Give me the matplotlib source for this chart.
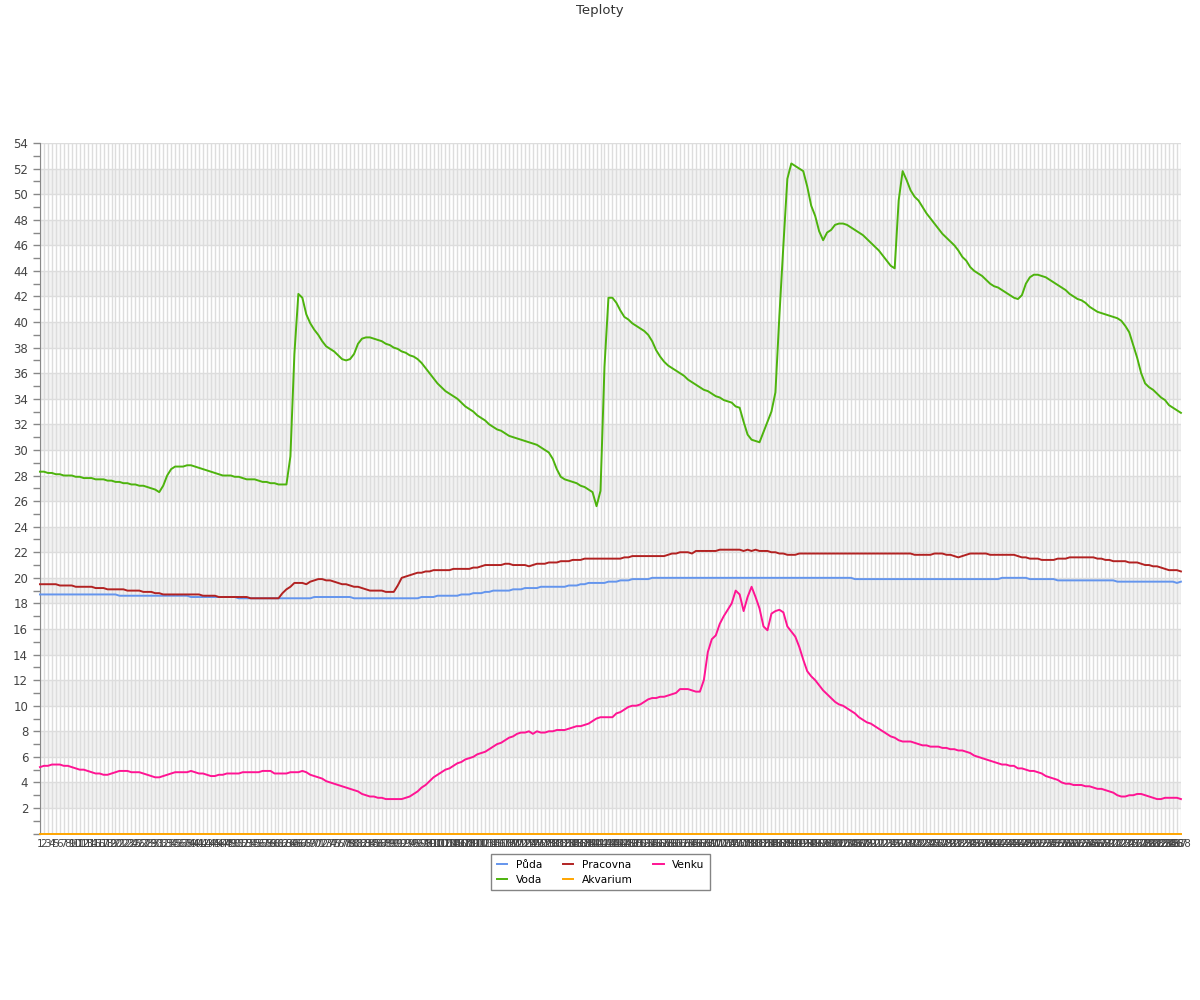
import numpy as np
import matplotlib
matplotlib.use('Agg')
import matplotlib.pyplot as plt

# 288 samples (5 min steps), labels 1..288
labels = [str(i) for i in range(1, 289)]

puda = [
    18.7, 18.7, 18.7, 18.7, 18.7, 18.7, 18.7, 18.7, 18.7, 18.7, 18.7, 18.7,
    18.7, 18.7, 18.7, 18.7, 18.7, 18.7, 18.7, 18.7, 18.6, 18.6, 18.6, 18.6,
    18.6, 18.6, 18.6, 18.6, 18.6, 18.6, 18.6, 18.6, 18.6, 18.6, 18.6, 18.6,
    18.6, 18.6, 18.5, 18.5, 18.5, 18.5, 18.5, 18.5, 18.5, 18.5, 18.5, 18.5,
    18.5, 18.5, 18.4, 18.4, 18.4, 18.4, 18.4, 18.4, 18.4, 18.4, 18.4, 18.4,
    18.4, 18.4, 18.4, 18.4, 18.4, 18.4, 18.4, 18.4, 18.4, 18.5, 18.5, 18.5,
    18.5, 18.5, 18.5, 18.5, 18.5, 18.5, 18.5, 18.4, 18.4, 18.4, 18.4, 18.4,
    18.4, 18.4, 18.4, 18.4, 18.4, 18.4, 18.4, 18.4, 18.4, 18.4, 18.4, 18.4,
    18.5, 18.5, 18.5, 18.5, 18.6, 18.6, 18.6, 18.6, 18.6, 18.6, 18.7, 18.7,
    18.7, 18.8, 18.8, 18.8, 18.9, 18.9, 19.0, 19.0, 19.0, 19.0, 19.0, 19.1,
    19.1, 19.1, 19.2, 19.2, 19.2, 19.2, 19.3, 19.3, 19.3, 19.3, 19.3, 19.3,
    19.3, 19.4, 19.4, 19.4, 19.5, 19.5, 19.6, 19.6, 19.6, 19.6, 19.6, 19.7,
    19.7, 19.7, 19.8, 19.8, 19.8, 19.9, 19.9, 19.9, 19.9, 19.9, 20.0, 20.0,
    20.0, 20.0, 20.0, 20.0, 20.0, 20.0, 20.0, 20.0, 20.0, 20.0, 20.0, 20.0,
    20.0, 20.0, 20.0, 20.0, 20.0, 20.0, 20.0, 20.0, 20.0, 20.0, 20.0, 20.0,
    20.0, 20.0, 20.0, 20.0, 20.0, 20.0, 20.0, 20.0, 20.0, 20.0, 20.0, 20.0,
    20.0, 20.0, 20.0, 20.0, 20.0, 20.0, 20.0, 20.0, 20.0, 20.0, 20.0, 20.0,
    20.0, 19.9, 19.9, 19.9, 19.9, 19.9, 19.9, 19.9, 19.9, 19.9, 19.9, 19.9,
    19.9, 19.9, 19.9, 19.9, 19.9, 19.9, 19.9, 19.9, 19.9, 19.9, 19.9, 19.9,
    19.9, 19.9, 19.9, 19.9, 19.9, 19.9, 19.9, 19.9, 19.9, 19.9, 19.9, 19.9,
    19.9, 19.9, 20.0, 20.0, 20.0, 20.0, 20.0, 20.0, 20.0, 19.9, 19.9, 19.9,
    19.9, 19.9, 19.9, 19.9, 19.8, 19.8, 19.8, 19.8, 19.8, 19.8, 19.8, 19.8,
    19.8, 19.8, 19.8, 19.8, 19.8, 19.8, 19.8, 19.7, 19.7, 19.7, 19.7, 19.7,
    19.7, 19.7, 19.7, 19.7, 19.7, 19.7, 19.7, 19.7, 19.7, 19.7, 19.6, 19.7,
]

voda = [
    28.3, 28.3, 28.2, 28.2, 28.1, 28.1, 28.0, 28.0, 28.0, 27.9, 27.9, 27.8,
    27.8, 27.8, 27.7, 27.7, 27.7, 27.6, 27.6, 27.5, 27.5, 27.4, 27.4, 27.3,
    27.3, 27.2, 27.2, 27.1, 27.0, 26.9, 26.7, 27.2, 28.0, 28.5, 28.7, 28.7,
    28.7, 28.8, 28.8, 28.7, 28.6, 28.5, 28.4, 28.3, 28.2, 28.1, 28.0, 28.0,
    28.0, 27.9, 27.9, 27.8, 27.7, 27.7, 27.7, 27.6, 27.5, 27.5, 27.4, 27.4,
    27.3, 27.3, 27.3, 29.5, 37.5, 42.2, 41.9, 40.6, 39.9, 39.4, 39.0, 38.5,
    38.1, 37.9, 37.7, 37.4, 37.1, 37.0, 37.1, 37.5, 38.3, 38.7, 38.8, 38.8,
    38.7, 38.6, 38.5, 38.3, 38.2, 38.0, 37.9, 37.7, 37.6, 37.4, 37.3, 37.1,
    36.8, 36.4, 36.0, 35.6, 35.2, 34.9, 34.6, 34.4, 34.2, 34.0, 33.7, 33.4,
    33.2, 33.0, 32.7, 32.5, 32.3, 32.0, 31.8, 31.6, 31.5, 31.3, 31.1, 31.0,
    30.9, 30.8, 30.7, 30.6, 30.5, 30.4, 30.2, 30.0, 29.8, 29.3, 28.5, 27.9,
    27.7, 27.6, 27.5, 27.4, 27.2, 27.1, 26.9, 26.7, 25.6, 26.8, 36.5, 41.9,
    41.9, 41.5, 40.9, 40.4, 40.2, 39.9, 39.7, 39.5, 39.3, 39.0, 38.5, 37.8,
    37.3, 36.9, 36.6, 36.4, 36.2, 36.0, 35.8, 35.5, 35.3, 35.1, 34.9, 34.7,
    34.6, 34.4, 34.2, 34.1, 33.9, 33.8, 33.7, 33.4, 33.3, 32.2, 31.2, 30.8,
    30.7, 30.6, 31.4, 32.2, 33.0, 34.5, 40.5, 46.0, 51.2, 52.4, 52.2, 52.0,
    51.8, 50.6, 49.1, 48.3, 47.1, 46.4, 47.0, 47.2, 47.6, 47.7, 47.7, 47.6,
    47.4, 47.2, 47.0, 46.8, 46.5, 46.2, 45.9, 45.6, 45.2, 44.8, 44.4, 44.2,
    49.5, 51.8, 51.1, 50.3, 49.8, 49.5, 49.0, 48.5, 48.1, 47.7, 47.3, 46.9,
    46.6, 46.3, 46.0, 45.6, 45.1, 44.8, 44.3, 44.0, 43.8, 43.6, 43.3, 43.0,
    42.8, 42.7, 42.5, 42.3, 42.1, 41.9, 41.8, 42.1, 43.0, 43.5, 43.7, 43.7,
    43.6, 43.5, 43.3, 43.1, 42.9, 42.7, 42.5, 42.2, 42.0, 41.8, 41.7, 41.5,
    41.2, 41.0, 40.8, 40.7, 40.6, 40.5, 40.4, 40.3, 40.1, 39.7, 39.2, 38.2,
    37.2, 36.0, 35.2, 34.9, 34.7, 34.4, 34.1, 33.9, 33.5, 33.3, 33.1, 32.9,
]

pracovna = [
    19.5, 19.5, 19.5, 19.5, 19.5, 19.4, 19.4, 19.4, 19.4, 19.3, 19.3, 19.3,
    19.3, 19.3, 19.2, 19.2, 19.2, 19.1, 19.1, 19.1, 19.1, 19.1, 19.0, 19.0,
    19.0, 19.0, 18.9, 18.9, 18.9, 18.8, 18.8, 18.7, 18.7, 18.7, 18.7, 18.7,
    18.7, 18.7, 18.7, 18.7, 18.7, 18.6, 18.6, 18.6, 18.6, 18.5, 18.5, 18.5,
    18.5, 18.5, 18.5, 18.5, 18.5, 18.4, 18.4, 18.4, 18.4, 18.4, 18.4, 18.4,
    18.4, 18.8, 19.1, 19.3, 19.6, 19.6, 19.6, 19.5, 19.7, 19.8, 19.9, 19.9,
    19.8, 19.8, 19.7, 19.6, 19.5, 19.5, 19.4, 19.3, 19.3, 19.2, 19.1, 19.0,
    19.0, 19.0, 19.0, 18.9, 18.9, 18.9, 19.4, 20.0, 20.1, 20.2, 20.3, 20.4,
    20.4, 20.5, 20.5, 20.6, 20.6, 20.6, 20.6, 20.6, 20.7, 20.7, 20.7, 20.7,
    20.7, 20.8, 20.8, 20.9, 21.0, 21.0, 21.0, 21.0, 21.0, 21.1, 21.1, 21.0,
    21.0, 21.0, 21.0, 20.9, 21.0, 21.1, 21.1, 21.1, 21.2, 21.2, 21.2, 21.3,
    21.3, 21.3, 21.4, 21.4, 21.4, 21.5, 21.5, 21.5, 21.5, 21.5, 21.5, 21.5,
    21.5, 21.5, 21.5, 21.6, 21.6, 21.7, 21.7, 21.7, 21.7, 21.7, 21.7, 21.7,
    21.7, 21.7, 21.8, 21.9, 21.9, 22.0, 22.0, 22.0, 21.9, 22.1, 22.1, 22.1,
    22.1, 22.1, 22.1, 22.2, 22.2, 22.2, 22.2, 22.2, 22.2, 22.1, 22.2, 22.1,
    22.2, 22.1, 22.1, 22.1, 22.0, 22.0, 21.9, 21.9, 21.8, 21.8, 21.8, 21.9,
    21.9, 21.9, 21.9, 21.9, 21.9, 21.9, 21.9, 21.9, 21.9, 21.9, 21.9, 21.9,
    21.9, 21.9, 21.9, 21.9, 21.9, 21.9, 21.9, 21.9, 21.9, 21.9, 21.9, 21.9,
    21.9, 21.9, 21.9, 21.9, 21.8, 21.8, 21.8, 21.8, 21.8, 21.9, 21.9, 21.9,
    21.8, 21.8, 21.7, 21.6, 21.7, 21.8, 21.9, 21.9, 21.9, 21.9, 21.9, 21.8,
    21.8, 21.8, 21.8, 21.8, 21.8, 21.8, 21.7, 21.6, 21.6, 21.5, 21.5, 21.5,
    21.4, 21.4, 21.4, 21.4, 21.5, 21.5, 21.5, 21.6, 21.6, 21.6, 21.6, 21.6,
    21.6, 21.6, 21.5, 21.5, 21.4, 21.4, 21.3, 21.3, 21.3, 21.3, 21.2, 21.2,
    21.2, 21.1, 21.0, 21.0, 20.9, 20.9, 20.8, 20.7, 20.6, 20.6, 20.6, 20.5,
]

akvarium = [0.0] * 288

venku = [
    5.2, 5.3, 5.3, 5.4, 5.4, 5.4, 5.3, 5.3, 5.2, 5.1, 5.0, 5.0,
    4.9, 4.8, 4.7, 4.7, 4.6, 4.6, 4.7, 4.8, 4.9, 4.9, 4.9, 4.8,
    4.8, 4.8, 4.7, 4.6, 4.5, 4.4, 4.4, 4.5, 4.6, 4.7, 4.8, 4.8,
    4.8, 4.8, 4.9, 4.8, 4.7, 4.7, 4.6, 4.5, 4.5, 4.6, 4.6, 4.7,
    4.7, 4.7, 4.7, 4.8, 4.8, 4.8, 4.8, 4.8, 4.9, 4.9, 4.9, 4.7,
    4.7, 4.7, 4.7, 4.8, 4.8, 4.8, 4.9, 4.8, 4.6, 4.5, 4.4, 4.3,
    4.1, 4.0, 3.9, 3.8, 3.7, 3.6, 3.5, 3.4, 3.3, 3.1, 3.0, 2.9,
    2.9, 2.8, 2.8, 2.7, 2.7, 2.7, 2.7, 2.7, 2.8, 2.9, 3.1, 3.3,
    3.6, 3.8, 4.1, 4.4, 4.6, 4.8, 5.0, 5.1, 5.3, 5.5, 5.6, 5.8,
    5.9, 6.0, 6.2, 6.3, 6.4, 6.6, 6.8, 7.0, 7.1, 7.3, 7.5, 7.6,
    7.8, 7.9, 7.9, 8.0, 7.8, 8.0, 7.9, 7.9, 8.0, 8.0, 8.1, 8.1,
    8.1, 8.2, 8.3, 8.4, 8.4, 8.5, 8.6, 8.8, 9.0, 9.1, 9.1, 9.1,
    9.1, 9.4, 9.5, 9.7, 9.9, 10.0, 10.0, 10.1, 10.3, 10.5, 10.6, 10.6,
    10.7, 10.7, 10.8, 10.9, 11.0, 11.3, 11.3, 11.3, 11.2, 11.1, 11.1, 12.0,
    14.2, 15.2, 15.5, 16.4, 17.0, 17.5, 18.0, 19.0, 18.7, 17.4, 18.5, 19.3,
    18.5, 17.6, 16.2, 15.9, 17.2, 17.4, 17.5, 17.3, 16.2, 15.8, 15.4, 14.6,
    13.6, 12.7, 12.3, 12.0, 11.6, 11.2, 10.9, 10.6, 10.3, 10.1, 10.0, 9.8,
    9.6, 9.4, 9.1, 8.9, 8.7, 8.6, 8.4, 8.2, 8.0, 7.8, 7.6, 7.5,
    7.3, 7.2, 7.2, 7.2, 7.1, 7.0, 6.9, 6.9, 6.8, 6.8, 6.8, 6.7,
    6.7, 6.6, 6.6, 6.5, 6.5, 6.4, 6.3, 6.1, 6.0, 5.9, 5.8, 5.7,
    5.6, 5.5, 5.4, 5.4, 5.3, 5.3, 5.1, 5.1, 5.0, 4.9, 4.9, 4.8,
    4.7, 4.5, 4.4, 4.3, 4.2, 4.0, 3.9, 3.9, 3.8, 3.8, 3.8, 3.7,
    3.7, 3.6, 3.5, 3.5, 3.4, 3.3, 3.2, 3.0, 2.9, 2.9, 3.0, 3.0,
    3.1, 3.1, 3.0, 2.9, 2.8, 2.7, 2.7, 2.8, 2.8, 2.8, 2.8, 2.7,
]

series = [
    ('Půda', puda, '#6495ed'),
    ('Voda', voda, '#4db30d'),
    ('Pracovna', pracovna, '#b22222'),
    ('Akvarium', akvarium, '#ffa500'),
    ('Venku', venku, '#ff1493'),
]

fig = plt.figure(figsize=(12, 10), dpi=100)
ax = fig.add_axes([0.0333, 0.1664, 0.9508, 0.6906])

x = np.arange(len(labels))

# alternating bands
for lo in range(2, 54, 4):
    ax.axhspan(lo, lo + 2, color='#f2f2f2', zorder=0, lw=0)

for name, vals, col in series:
    ax.plot(x, vals, color=col, lw=1.4, label=name, zorder=3, clip_on=False)

ax.set_xlim(0, len(labels) - 1)
ax.set_ylim(0, 54)

ax.set_xticks(x)
ax.set_xticklabels(labels, fontsize=7.5, color='#444444')
ax.tick_params(axis='x', length=0, pad=4)

ax.set_yticks(np.arange(0, 55, 2))
ax.set_yticklabels([''] + [str(v) for v in range(2, 55, 2)], fontsize=8.5, color='#444444')
ax.set_yticks(np.arange(1, 54, 2), minor=True)
ax.tick_params(axis='y', which='both', length=5, color='#888888', width=1)

ax.grid(True, which='major', axis='both', color='#dddddd', lw=1, zorder=1)
ax.set_axisbelow(True)

for s in ['top', 'right', 'bottom']:
    ax.spines[s].set_visible(False)
ax.spines['left'].set_color('#888888')

fig.suptitle('Teploty', y=0.996, fontsize=9.5, color='#333333')

fig.legend(loc='upper center', bbox_to_anchor=(0.5005, 0.151), ncol=3,
           fontsize=7.7, frameon=True, fancybox=False, edgecolor='#666666',
           handlelength=1.0, handletextpad=0.8, columnspacing=1.9,
           borderpad=0.5, labelspacing=0.45)

fig.savefig('out.png', dpi=100, facecolor='white')
